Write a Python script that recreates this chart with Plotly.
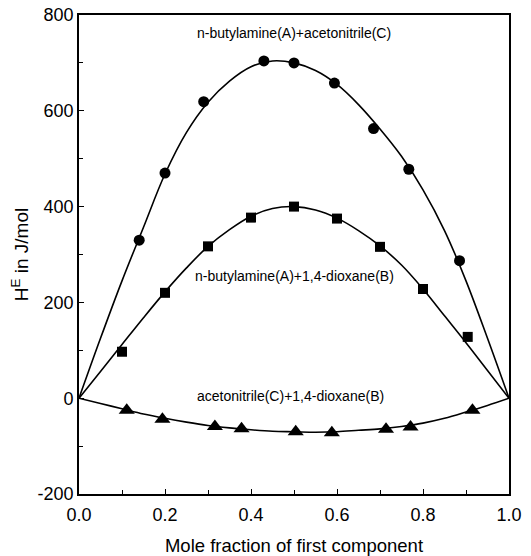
import plotly.graph_objects as go

# Experimental points
x_ac = [0.14, 0.20, 0.29, 0.43, 0.50, 0.594, 0.685, 0.767, 0.885]
y_ac = [330, 470, 619, 704, 700, 658, 563, 478, 287]

x_ab = [0.10, 0.20, 0.30, 0.40, 0.50, 0.60, 0.70, 0.80, 0.904]
y_ab = [97, 220, 317, 377, 400, 375, 316, 228, 128]

x_cb = [0.111, 0.194, 0.316, 0.378, 0.504, 0.588, 0.714, 0.771, 0.915]
y_cb = [-25, -44, -59, -64, -70, -72, -65, -60, -25]

# Fitted curves
cx = [0, 0.05, 0.10, 0.15, 0.20, 0.25, 0.30, 0.35, 0.40, 0.45, 0.50,
      0.55, 0.60, 0.65, 0.70, 0.75, 0.80, 0.85, 0.90, 0.95, 1.0]
cy_ac = [0, 125, 245, 357, 468, 555, 618, 662, 692, 704, 700,
         684, 655, 613, 562, 505, 435, 350, 245, 125, 0]
cy_ab = [0, 56, 112, 168, 222, 272, 317, 352, 380, 396, 400,
         393, 376, 350, 318, 278, 228, 172, 116, 58, 0]
cy_cb = [0, -11, -22, -33, -42, -50, -57, -62, -66, -69, -70,
         -71, -70, -67, -64, -59, -52, -42, -29, -15, 0]

labels = ["n-butylamine(A)+acetonitrile(C)",
          "n-butylamine(A)+1,4-dioxane(B)",
          "acetonitrile(C)+1,4-dioxane(B)"]
label_x = [0.50, 0.50, 0.492]
label_y = [762, 255, 4]

xticks = [0, 0.2, 0.4, 0.6, 0.8, 1.0]
xticktext = ["0.0", "0.2", "0.4", "0.6", "0.8", "1.0"]
yticks = [-200, 0, 200, 400, 600, 800]
yticktext = ["-200", "0", "200", "400", "600", "800"]

FONT = "Liberation Sans, Arial, sans-serif"

fig = go.Figure()
for yy in (cy_ac, cy_ab, cy_cb):
    fig.add_trace(go.Scatter(x=cx, y=yy, mode="lines", line=dict(color="black", width=1.6, shape="spline"),
                             hoverinfo="skip", showlegend=False))
fig.add_trace(go.Scatter(x=x_ac, y=y_ac, mode="markers",
                         marker=dict(symbol="circle", size=11, color="black"), showlegend=False))
fig.add_trace(go.Scatter(x=x_ab, y=y_ab, mode="markers",
                         marker=dict(symbol="square", size=10, color="black"), showlegend=False))
fig.add_trace(go.Scatter(x=x_cb, y=y_cb, mode="markers",
                         marker=dict(symbol="triangle-up", size=14, color="black"), showlegend=False))

for t, lx, ly in zip(labels, label_x, label_y):
    fig.add_annotation(x=lx, y=ly, text=t, showarrow=False,
                       font=dict(size=14, color="black", family=FONT))

fig.update_layout(
    width=531, height=556,
    margin=dict(l=79, r=22, t=15, b=62),
    paper_bgcolor="white", plot_bgcolor="white",
    font=dict(family=FONT, color="black"),
    xaxis=dict(range=[0, 1], tickvals=xticks, ticktext=xticktext, ticks="inside", ticklen=5,
               tickwidth=1.2, tickcolor="black", ticklabelstandoff=4, ticklabeloverflow="allow",
               minor=dict(dtick=0.1, ticks="inside", ticklen=4, tickcolor="black"),
               showline=True, linecolor="black", linewidth=1.6, mirror=True,
               showgrid=False, zeroline=False, tickfont=dict(size=18), automargin=False,
               title=dict(text="Mole fraction of first component", font=dict(size=18.5), standoff=16)),
    yaxis=dict(range=[-200, 800], tickvals=yticks, ticktext=yticktext, ticks="inside", ticklen=5,
               tickwidth=1.2, tickcolor="black", ticklabeloverflow="allow",
               minor=dict(dtick=100, ticks="inside", ticklen=4, tickcolor="black"),
               showline=True, linecolor="black", linewidth=1.6, mirror=True,
               showgrid=False, zeroline=False, tickfont=dict(size=18), automargin=False,
               title=dict(text="H<sup>E</sup> in J/mol", font=dict(size=19), standoff=4)),
)

fig.write_html("out.html", config={"displayModeBar": False},
               post_script="document.body.style.margin='0';")
